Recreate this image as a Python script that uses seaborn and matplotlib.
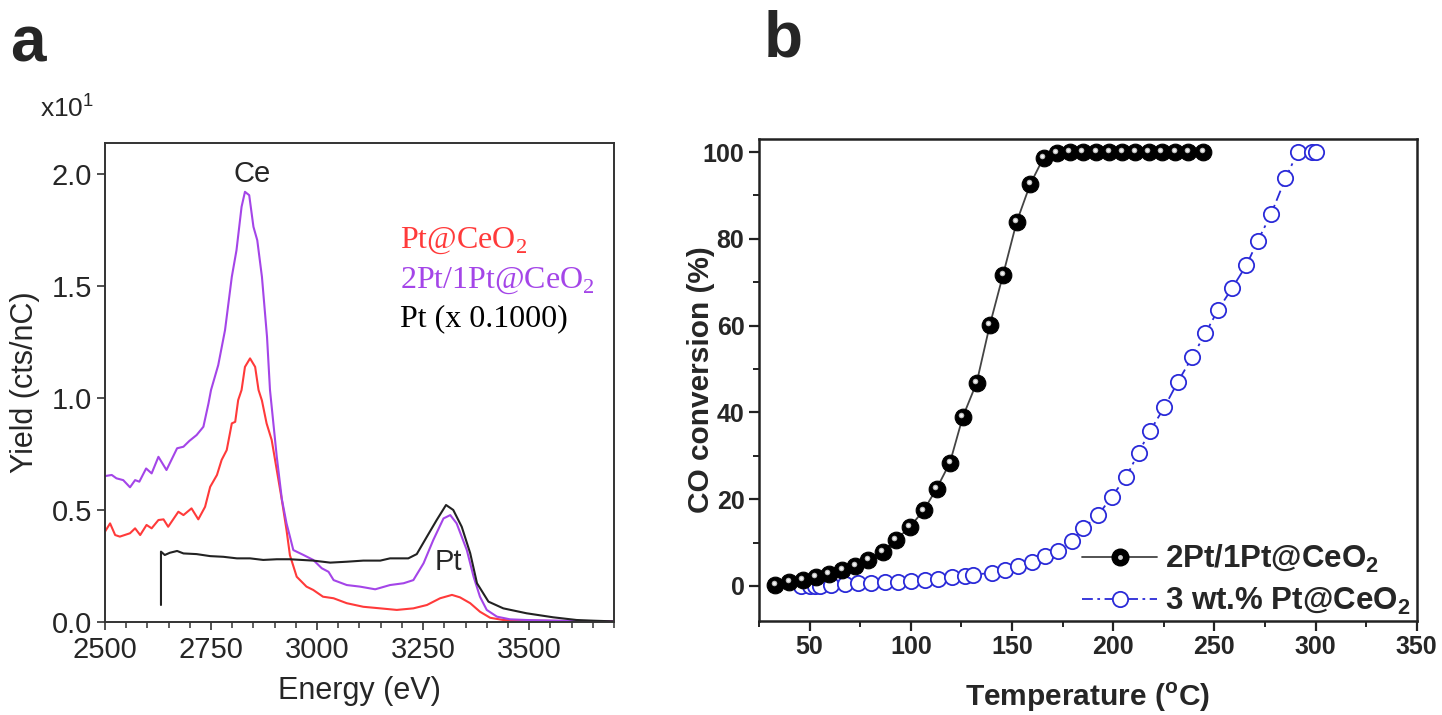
import numpy as np
import pandas as pd
import matplotlib
matplotlib.use("Agg")
import matplotlib.pyplot as plt
import matplotlib.transforms as mtransforms
from matplotlib.lines import Line2D
from matplotlib.legend_handler import HandlerTuple
from matplotlib.ticker import MultipleLocator
import seaborn as sns

# ---------------- data: panel a (RBS spectra) ----------------
energy_purple = [2500, 2516, 2527, 2543, 2559, 2571, 2581, 2597, 2610, 2626, 2645, 2670, 2685, 2699, 2716,
                 2732, 2744, 2750, 2767, 2783, 2799, 2810, 2822, 2830, 2840, 2850, 2859, 2870, 2882, 2889,
                 2905, 2917, 2928, 2936, 2944, 2968, 2991, 3011, 3027, 3039, 3070, 3101, 3137, 3172, 3204,
                 3227, 3251, 3274, 3298, 3314, 3329, 3353, 3369, 3384, 3400, 3424, 3455, 3494, 3573, 3651, 3698]
yield_purple = [0.653, 0.658, 0.643, 0.635, 0.603, 0.635, 0.628, 0.687, 0.665, 0.739, 0.680, 0.777, 0.784, 0.810, 0.836,
                0.873, 0.977, 1.037, 1.148, 1.304, 1.542, 1.660, 1.854, 1.921, 1.906, 1.765, 1.705, 1.542, 1.274, 1.037,
                0.739, 0.550, 0.442, 0.383, 0.323, 0.301, 0.279, 0.242, 0.226, 0.189, 0.167, 0.160, 0.148, 0.167, 0.175,
                0.189, 0.264, 0.368, 0.464, 0.479, 0.442, 0.323, 0.204, 0.115, 0.056, 0.026, 0.014, 0.011, 0.008, 0.005, 0.005]

energy_red = [2500, 2512, 2524, 2535, 2559, 2571, 2583, 2598, 2610, 2626, 2638, 2649, 2673, 2685, 2704,
              2720, 2736, 2748, 2764, 2775, 2787, 2799, 2807, 2814, 2822, 2830, 2842, 2854, 2862, 2870,
              2881, 2893, 2905, 2917, 2928, 2936, 2952, 2975, 2991, 3014, 3039, 3070, 3109, 3149, 3188,
              3227, 3259, 3290, 3318, 3337, 3361, 3384, 3408, 3439, 3494, 3600, 3698]
yield_red = [0.405, 0.442, 0.390, 0.383, 0.398, 0.420, 0.390, 0.435, 0.420, 0.457, 0.460, 0.427, 0.494, 0.479, 0.509,
             0.460, 0.516, 0.605, 0.658, 0.725, 0.769, 0.888, 0.895, 0.992, 1.037, 1.140, 1.178, 1.140, 1.037, 0.990,
             0.888, 0.814, 0.680, 0.546, 0.412, 0.300, 0.204, 0.160, 0.145, 0.115, 0.108, 0.086, 0.070, 0.063, 0.056,
             0.063, 0.078, 0.108, 0.123, 0.112, 0.086, 0.048, 0.021, 0.011, 0.008, 0.006, 0.005]

energy_pt = [2632, 2632, 2641, 2653, 2670, 2685, 2716, 2748, 2779, 2811, 2842, 2873, 2905, 2936, 2991,
             3031, 3070, 3109, 3149, 3172, 3215, 3235, 3259, 3282, 3304, 3321, 3341, 3361, 3377, 3404,
             3439, 3494, 3557, 3612, 3651, 3698]
yield_pt = [0.078, 0.316, 0.301, 0.311, 0.319, 0.308, 0.305, 0.296, 0.293, 0.286, 0.286, 0.279, 0.282, 0.282, 0.276,
            0.267, 0.271, 0.276, 0.276, 0.286, 0.286, 0.305, 0.383, 0.457, 0.524, 0.502, 0.427, 0.309, 0.175, 0.093,
            0.063, 0.041, 0.023, 0.011, 0.008, 0.005]

labels_a = ["Pt@CeO$_\\mathregular{2}$", "2Pt/1Pt@CeO$_\\mathregular{2}$", "Pt (x 0.1000)"]
xticks_a = [2500, 2750, 3000, 3250, 3500]
yticks_a = [0.0, 0.5, 1.0, 1.5, 2.0]

# ---------------- data: panel b (CO conversion) ----------------
temp_2pt = [33, 40, 46.5, 53, 59.5, 66, 72.6, 79, 86, 92.6, 99.5, 106.3, 112.7, 119.3, 125.7, 132.5, 139,
            145.5, 152.3, 159, 165.6, 172, 178.5, 185, 191.5, 198, 204.5, 211, 217.5, 224, 230.5, 237, 244.5]
conv_2pt = [0.3, 1.0, 1.4, 2.1, 2.8, 3.7, 4.7, 6.0, 7.9, 10.6, 13.6, 17.4, 22.4, 28.4, 39.0, 46.8, 60.1,
            71.6, 83.9, 92.6, 98.7, 99.7, 100, 100, 100, 100, 100, 100, 100, 100, 100, 100, 100]

temp_3wt = [45.9, 50, 52.5, 55, 60.7, 67.3, 73.8, 80.5, 87.1, 93.6, 100.3, 106.9, 113.4, 120.1, 126.7, 130.7,
            139.9, 146.5, 153, 159.8, 166.3, 172.8, 179.6, 185.3, 192.7, 199.3, 206.4, 212.5, 218.3, 225.3,
            232, 239, 245.5, 251.8, 258.7, 265.8, 271.4, 278, 285.1, 291.2, 298.3, 300.3]
conv_3wt = [0.1, 0.1, 0.1, 0.1, 0.3, 0.5, 0.7, 0.7, 0.9, 1.0, 1.2, 1.4, 1.7, 2.0, 2.2, 2.6,
            3.0, 3.7, 4.5, 5.6, 7.0, 8.1, 10.4, 13.3, 16.4, 20.6, 25.1, 30.7, 35.8, 41.2,
            47.1, 52.7, 58.2, 63.6, 68.6, 73.9, 79.5, 85.7, 93.9, 100, 100, 100]

labels_b = ["2Pt/1Pt@CeO$_\\mathregular{2}$", "3 wt.% Pt@CeO$_\\mathregular{2}$"]
xticks_b = [50, 100, 150, 200, 250, 300, 350]
yticks_b = [0, 20, 40, 60, 80, 100]

# ---------------- style ----------------
sns.set_theme(style="ticks")
plt.rcParams["font.family"] = ["Liberation Sans", "DejaVu Sans"]
plt.rcParams["axes.linewidth"] = 1.4

RED = "#ff3a3a"
PURPLE = "#a445e8"
BLACK = "#222222"
BLUE = "#2a2ad8"
DASHDOT = (0, (6, 2.5, 1.5, 2.5))

fig = plt.figure(figsize=(14.42, 7.15), dpi=100)
axa = fig.add_axes([0.0728, 0.1294, 0.3530, 0.6710])
axb = fig.add_axes([0.5264, 0.1319, 0.4561, 0.6737])

# ---------------- panel a ----------------
dfr = pd.DataFrame({"E": energy_red, "Y": yield_red})
dfp = pd.DataFrame({"E": energy_purple, "Y": yield_purple})
dft = pd.DataFrame({"E": energy_pt, "Y": yield_pt})
sns.lineplot(data=dfr, x="E", y="Y", ax=axa, color=RED, lw=1.5, sort=False, estimator=None)
sns.lineplot(data=dfp, x="E", y="Y", ax=axa, color=PURPLE, lw=1.5, sort=False, estimator=None)
sns.lineplot(data=dft, x="E", y="Y", ax=axa, color=BLACK, lw=1.5, sort=False, estimator=None)

axa.set_xlim(2500, 3700)
axa.set_ylim(0, 2.14)
axa.set_xticks(xticks_a)
axa.set_yticks(yticks_a)
axa.set_yticklabels([f"{v:.1f}" for v in yticks_a])
axa.xaxis.set_minor_locator(MultipleLocator(50))
axa.tick_params(axis="both", which="major", labelsize=21, length=6, width=1.2, color="#333333", direction="out")
axa.tick_params(axis="x", which="minor", length=4, width=1.1, color="#333333", direction="out")
for s in axa.spines.values():
    s.set_color("#333333")
    s.set_linewidth(1.4)
axa.set_xlabel("Energy (eV)", fontsize=22)
axa.set_ylabel("Yield (cts/nC)", fontsize=22)
axa.yaxis.set_label_coords(-0.128, 0.5)
axa.xaxis.set_label_coords(0.5, -0.112)

axa.text(2847, 2.0, "Ce", fontsize=21, ha="center", va="center")
axa.text(3309, 0.27, "Pt", fontsize=21, ha="center", va="center")

leg_cols = [RED, PURPLE, "black"]
leg_y = [0.78, 0.697, 0.618]
for lab, col, yy in zip(labels_a, leg_cols, leg_y):
    axa.text(0.58, yy, lab, transform=axa.transAxes, color=col, fontsize=23,
             family=["Liberation Serif", "DejaVu Serif"], ha="left", va="baseline")

fig.text(0.028, 0.849, "x10$^\\mathregular{1}$", fontsize=19, ha="left", va="center")
fig.text(0.019, 0.938, "a", fontsize=46, fontweight="bold", ha="center", va="center")
fig.text(0.543, 0.945, "b", fontsize=46, fontweight="bold", ha="center", va="center")

# ---------------- panel b ----------------
dfa = pd.DataFrame({"T": temp_2pt, "C": conv_2pt})
dfb = pd.DataFrame({"T": temp_3wt, "C": conv_3wt})

sns.lineplot(data=dfb, x="T", y="C", ax=axb, color=BLUE, lw=1.3, linestyle=DASHDOT,
             marker="o", markersize=11, markerfacecolor="white", markeredgecolor=BLUE,
             markeredgewidth=1.3, sort=False, estimator=None)
sns.lineplot(data=dfa, x="T", y="C", ax=axb, color="#444444", lw=1.3,
             marker="o", markersize=12, markerfacecolor="black", markeredgecolor="black",
             markeredgewidth=0.8, sort=False, estimator=None)
# sphere highlight on the black markers
hl_tr = mtransforms.offset_copy(axb.transData, fig=fig, x=-1.0, y=1.4, units="points")
sns.scatterplot(data=dfa, x="T", y="C", ax=axb, color="#bdbdbd", s=16, linewidth=0,
                transform=hl_tr, zorder=5, legend=False)
sns.scatterplot(data=dfa, x="T", y="C", ax=axb, color="#f2f2f2", s=5, linewidth=0,
                transform=hl_tr, zorder=6, legend=False)

axb.set_xlim(25, 350)
axb.set_ylim(-8, 103)
axb.set_xticks(xticks_b)
axb.set_yticks(yticks_b)
axb.xaxis.set_minor_locator(MultipleLocator(25))
axb.yaxis.set_minor_locator(MultipleLocator(10))
axb.tick_params(axis="both", which="major", labelsize=18, length=7, width=1.6, color="#222222", direction="out")
axb.tick_params(axis="both", which="minor", length=4, width=1.4, color="#222222", direction="out")
for lab in axb.get_xticklabels() + axb.get_yticklabels():
    lab.set_fontweight("bold")
for s in axb.spines.values():
    s.set_color("#222222")
    s.set_linewidth(1.8)
axb.set_xlabel("Temperature ($^\\mathregular{o}$C)", fontsize=21.5, fontweight="bold")
axb.set_ylabel("CO conversion (%)", fontsize=21.5, fontweight="bold")
axb.xaxis.set_label_coords(0.5, -0.125)
axb.yaxis.set_label_coords(-0.067, 0.5)

h_black = Line2D([], [], color="#444444", lw=1.3, marker="o", markersize=12,
                 markerfacecolor="black", markeredgecolor="black")
h_hl = Line2D([], [], linestyle="none", marker="o", markersize=3.5, markerfacecolor="#d0d0d0",
              markeredgewidth=0)
h_blue = Line2D([], [], color=BLUE, lw=1.3, linestyle=DASHDOT, marker="o",
                markersize=11, markerfacecolor="white", markeredgecolor=BLUE, markeredgewidth=1.3)
axb.legend([(h_black, h_hl), h_blue], labels_b, handler_map={tuple: HandlerTuple(ndivide=1, pad=0)},
           loc="lower right", bbox_to_anchor=(1.0, -0.005), frameon=False,
           prop={"size": 22.5, "weight": "bold"}, handlelength=2.4, handletextpad=0.25,
           labelspacing=0.35, borderaxespad=0.1, borderpad=0.1)

fig.savefig("out.png", dpi=100)
